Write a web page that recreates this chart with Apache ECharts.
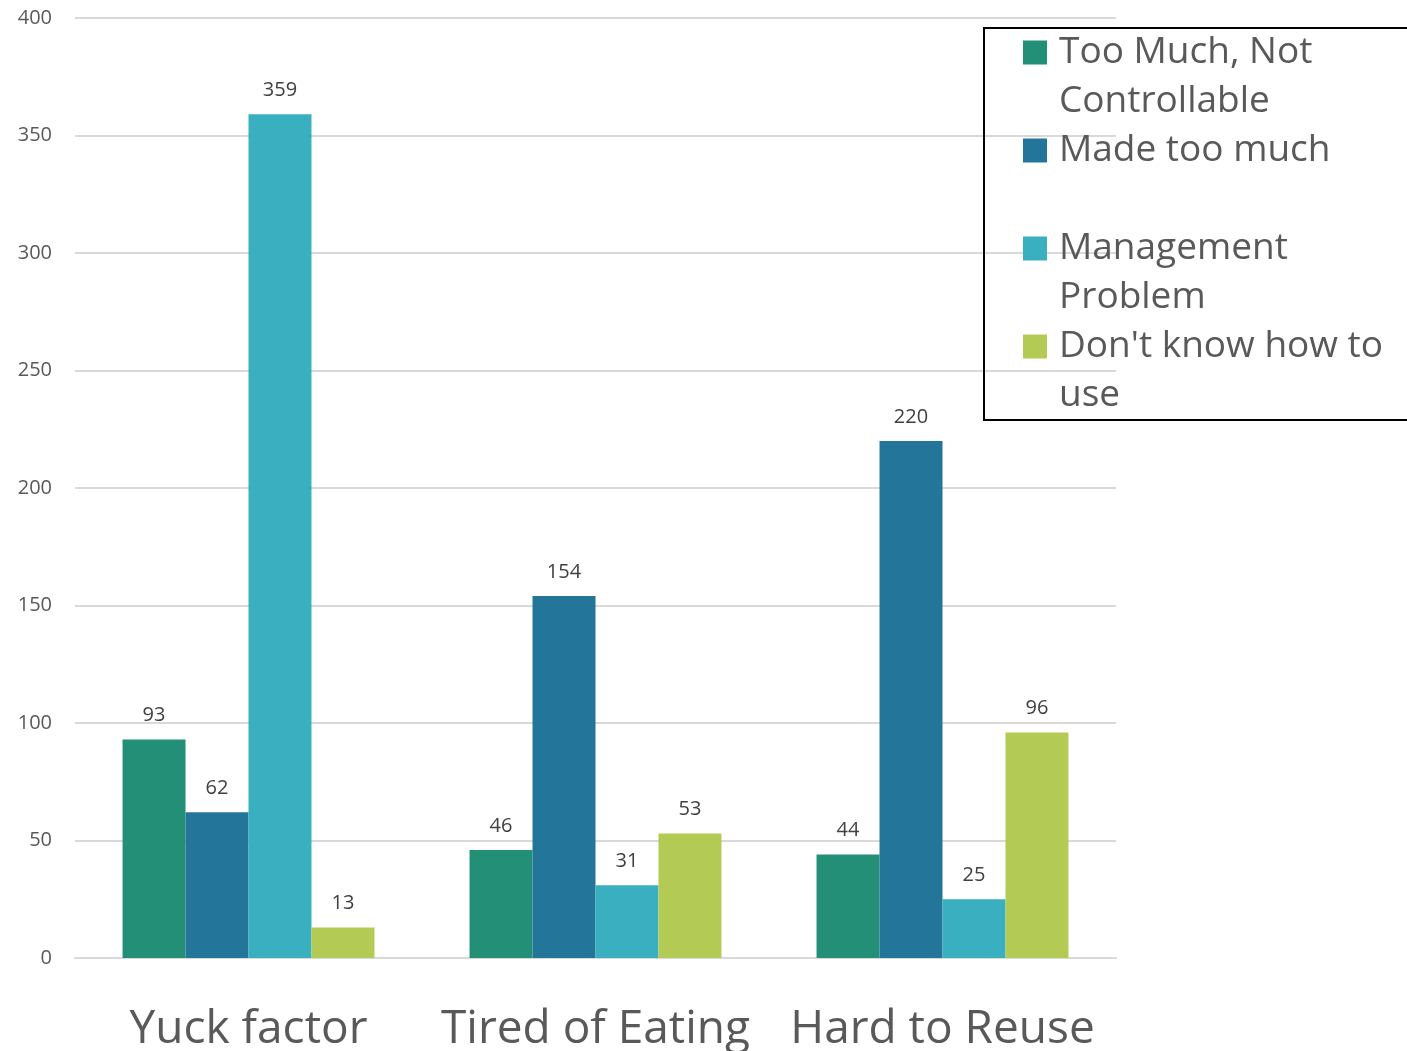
<!DOCTYPE html>
<html>
<head>
<meta charset="utf-8">
<script src="https://cdn.jsdelivr.net/npm/echarts@6/dist/echarts.min.js"></script>
<style>
  html, body { margin: 0; padding: 0; background: #ffffff; }
  #chart { width: 1407px; height: 1051px; }
</style>
</head>
<body>
<div id="chart"></div>
<script>
// Reasons food goes to waste, counted per response category
const categories = ['Yuck factor', 'Tired of Eating', 'Hard to Reuse'];
const seriesNames = ['Too Much, Not Controllable', 'Made too much', 'Management Problem', "Don't know how to use"];
const legendText = ['Too Much, Not\nControllable', 'Made too much\n ', 'Management\nProblem', "Don't know how to\nuse"];
const tooMuchNotControllable = [93, 46, 44];
const madeTooMuch = [62, 154, 220];
const managementProblem = [359, 31, 25];
const dontKnowHowToUse = [13, 53, 96];
const yTicks = [0, 50, 100, 150, 200, 250, 300, 350, 400];

const palette = ['#238F77', '#237599', '#39AFBF', '#B3CB55'];
const values = [tooMuchNotControllable, madeTooMuch, managementProblem, dontKnowHowToUse];

// square swatch sitting next to the first text line of a two-line legend entry
const swatch = 'path://M0,0L0,0M0,12.5L24,12.5L24,36.5L0,36.5ZM0,98L0,98';

const chart = echarts.init(document.getElementById('chart'), null, { renderer: 'canvas' });

chart.setOption({
  backgroundColor: '#ffffff',
  animation: false,
  textStyle: { fontFamily: 'Open Sans' },
  grid: { left: 75, right: 291, top: 18, bottom: 93, containLabel: false, outerBoundsMode: 'none' },
  legend: {
    orient: 'vertical',
    left: 984,
    top: 28,
    padding: [0, 80, 0, 39],
    itemGap: 0,
    itemWidth: 24,
    itemHeight: 98,
    icon: swatch,
    borderColor: '#000000',
    borderWidth: 2,
    borderRadius: 0,
    data: seriesNames,
    formatter: function (name) {
      return legendText[seriesNames.indexOf(name)];
    },
    textStyle: {
      fontFamily: 'Open Sans',
      fontSize: 37,
      lineHeight: 49,
      color: '#595959',
      padding: [0, 0, 0, 7]
    }
  },
  xAxis: {
    type: 'category',
    data: categories,
    axisLine: { show: true, lineStyle: { color: '#d9d9d9', width: 2 } },
    axisTick: { show: false },
    axisLabel: {
      fontFamily: 'Open Sans',
      fontSize: 46,
      color: '#595959',
      margin: 49,
      interval: 0
    }
  },
  yAxis: {
    type: 'value',
    min: yTicks[0],
    max: yTicks[yTicks.length - 1],
    interval: yTicks[1] - yTicks[0],
    axisLine: { show: false },
    axisTick: { show: false },
    splitLine: { lineStyle: { color: '#d9d9d9', width: 2 } },
    axisLabel: {
      fontFamily: 'Open Sans',
      fontSize: 20,
      color: '#595959',
      margin: 23
    }
  },
  series: seriesNames.map(function (name, i) {
    return {
      name: name,
      type: 'bar',
      data: values[i],
      barGap: '0%',
      barCategoryGap: '27.4%',
      itemStyle: { color: palette[i] },
      label: {
        show: true,
        position: 'top',
        distance: 14,
        fontFamily: 'Open Sans',
        fontSize: 20,
        color: '#404040'
      }
    };
  })
});
</script>
</body>
</html>
